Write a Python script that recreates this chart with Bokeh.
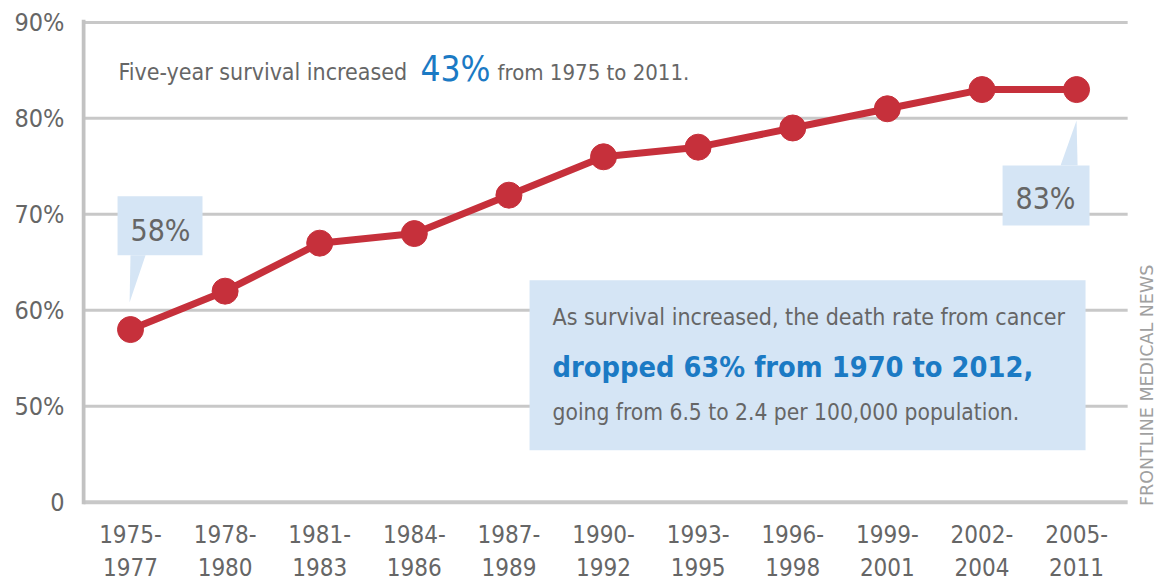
import math

from bokeh.core.properties import value
from bokeh.embed import file_html
from bokeh.models import ColumnDataSource, FixedTicker, Label, Range1d
from bokeh.plotting import figure
from bokeh.resources import INLINE

# Five-year relative survival, all cancers combined, by diagnosis period
period_starts = ["1975", "1978", "1981", "1984", "1987", "1990", "1993", "1996",
                 "1999", "2002", "2005"]
period_ends = ["1977", "1980", "1983", "1986", "1989", "1992", "1995", "1998",
               "2001", "2004", "2011"]
survival = [58, 62, 67, 68, 72, 76, 77, 79, 81, 83, 83]

# broken value axis: the lowest tick stands in for zero
y_ticks = [40, 50, 60, 70, 80, 90]
y_tick_labels = ["0", "50%", "60%", "70%", "80%", "90%"]

FONT = "DejaVu Sans Condensed, Roboto"
GREY = "#666666"
BLUE = "#1b7ac4"
RED = "#c6303b"
BOX = "#d5e5f5"
RULE = "#c8c8c8"

idx = list(range(len(survival)))
src = ColumnDataSource(data=dict(x=idx, y=survival))
lab_src = ColumnDataSource(data=dict(
    x=idx,
    top=[s + "-" for s in period_starts],
    bottom=period_ends,
    y_top=[36.71] * len(idx),
    y_bottom=[33.27] * len(idx),
))

Y_BASE, Y_TOP = 40, 90.3
X_START, X_END = -0.518, 10.845
X_AXIS, X_RULE_END = -0.497, 10.54
p = figure(width=1156, height=582,
           x_range=Range1d(X_START, X_END), y_range=Range1d(31.65, Y_TOP),
           output_backend="svg", toolbar_location=None,
           min_border_left=81, min_border_right=0,
           min_border_top=19, min_border_bottom=0)
p.outline_line_color = None
p.background_fill_color = "white"
p.border_fill_color = "white"

# value axis: tick labels from the axis, its line drawn below as a segment
p.xaxis.visible = False
p.yaxis.ticker = FixedTicker(ticks=y_ticks)
p.yaxis.major_label_overrides = {t: lab for t, lab in zip(y_ticks, y_tick_labels)}
p.yaxis.axis_line_color = None
p.yaxis.major_tick_line_color = None
p.yaxis.minor_tick_line_color = None
p.yaxis.major_tick_out = 0
p.yaxis.major_tick_in = 0
p.yaxis.major_label_text_font = FONT
p.yaxis.major_label_text_color = GREY
p.yaxis.major_label_text_font_size = "25px"
p.yaxis.major_label_standoff = 17
p.grid.visible = False

# horizontal rules (the bottom one doubles as the category axis line)
p.segment(x0=[X_AXIS] * len(y_ticks), x1=[X_RULE_END] * len(y_ticks),
          y0=y_ticks, y1=y_ticks, line_color=RULE,
          line_width=[4] + [3] * (len(y_ticks) - 1))
p.segment(x0=[X_AXIS], x1=[X_AXIS], y0=[Y_BASE - 0.2], y1=[Y_TOP],
          line_color="#c2c2c2", line_width=4)

# category labels under the axis, two rows per period
for col in ("top", "bottom"):
    p.text("x", "y_" + col, text=col, source=lab_src, text_font=value(FONT),
           text_font_size="24px", text_color=GREY, text_align="center",
           text_baseline="middle")

# callout for the first period
x0, y0 = idx[0], survival[0]
p.quad(left=x0 - 0.137, right=x0 + 0.761, bottom=y0 + 7.73, top=y0 + 13.875,
       fill_color=BOX, line_color=None)
p.patch(x=[x0, x0 + 0.159, x0 - 0.01], y=[y0 + 7.73, y0 + 7.73, y0 + 2.83],
        fill_color=BOX, line_color=None)

# callout for the last period
x1, y1 = idx[-1], survival[-1]
p.quad(left=x1 - 0.782, right=x1 + 0.137, bottom=y1 - 14.15, top=y1 - 7.9,
       fill_color=BOX, line_color=None)
p.patch(x=[x1 - 0.169, x1 + 0.011, x1], y=[y1 - 7.9, y1 - 7.9, y1 - 3.21],
        fill_color=BOX, line_color=None)

# mortality note panel
p.quad(left=4.218, right=10.095, bottom=45.42, top=63.125,
       fill_color=BOX, line_color=None)

# survival line
p.line("x", "y", source=src, line_color=RED, line_width=7)
p.scatter("x", "y", source=src, size=26, fill_color=RED, line_color=RED)


def label(x, y, text, size, color=GREY, weight="normal", align="left", **kw):
    p.add_layout(Label(x=x, y=y, text=text, text_font=FONT, text_font_size=size,
                       text_color=color, text_font_style=weight, text_align=align,
                       text_baseline="middle", **kw))


label(-0.127, 84.78, "Five-year survival increased", "23px")
label(3.066, 85.10, "43%", "35px", color=BLUE)
label(3.88, 84.74, "from 1975 to 2011.", "22px")

label(x0 + 0.317, y0 + 10.37, f"{survival[0]}%", "30px", align="center")
label(x1 - 0.328, y1 - 11.30, f"{survival[-1]}%", "30px", align="center")

label(4.461, 59.27, "As survival increased, the death rate from cancer", "23px")
label(4.461, 54.07, "dropped 63% from 1970 to 2012,", "28.7px", color=BLUE, weight="bold")
label(4.461, 49.38, "going from 6.5 to 2.4 per 100,000 population.", "22.6px")

p.add_layout(Label(x=10.74, y=52.19, text="FRONTLINE MEDICAL NEWS",
                   text_font="DejaVu Sans", text_font_size="17.5px",
                   text_color="#a0a0a0", text_align="center",
                   text_baseline="middle", angle=math.pi / 2))

open("out.html", "w").write(file_html(p, INLINE))
